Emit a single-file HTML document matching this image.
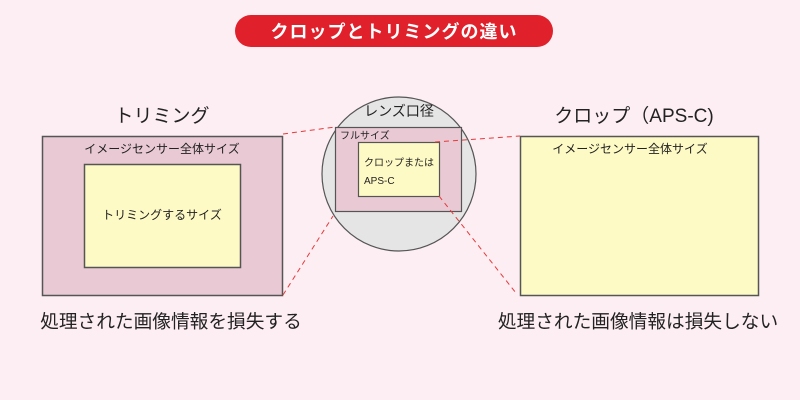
<!DOCTYPE html>
<html><head><meta charset="utf-8"><style>
body{margin:0;width:800px;height:400px;background:#fdeef4;overflow:hidden;font-family:"Liberation Sans","Noto Sans CJK JP",sans-serif;}
</style></head><body>
<svg width="800" height="400" xmlns="http://www.w3.org/2000/svg" style="position:absolute;left:0;top:0;font-family:'Liberation Sans','Noto Sans CJK JP',sans-serif">
<rect x="235" y="15" width="318" height="32" rx="16" fill="#e0202a"/>
<text x="394" y="38" text-anchor="middle" font-size="18" font-weight="bold" fill="#fff" letter-spacing="1">クロップとトリミングの違い</text>

<text x="162" y="122" text-anchor="middle" font-size="19" fill="#222">トリミング</text>
<rect x="42.5" y="136.5" width="240" height="159" fill="#e9c9d4" stroke="#555" stroke-width="1.5"/>
<text x="162" y="153" text-anchor="middle" font-size="12" fill="#222">イメージセンサー全体サイズ</text>
<rect x="84.5" y="164.5" width="156" height="103" fill="#fefac5" stroke="#555" stroke-width="1.5"/>
<text x="162" y="219" text-anchor="middle" font-size="12" fill="#222">トリミングするサイズ</text>
<text x="171" y="328" text-anchor="middle" font-size="18.7" fill="#222">処理された画像情報を損失する</text>

<circle cx="399" cy="174" r="77" fill="#e5e5e5" stroke="#555" stroke-width="1.2"/>
<text x="399" y="116" text-anchor="middle" font-size="14" fill="#222">レンズ口径</text>
<rect x="335.5" y="127.5" width="126" height="84" fill="#e9c9d4" stroke="#555" stroke-width="1.2"/>
<text x="340" y="139" font-size="10" fill="#222">フルサイズ</text>
<rect x="358.5" y="142.5" width="81" height="54" fill="#fefac5" stroke="#555" stroke-width="1.2"/>
<text x="364" y="166" font-size="10" fill="#222">クロップまたは</text>
<text x="364" y="184" font-size="10" fill="#222">APS-C</text>

<text x="634" y="122" text-anchor="middle" font-size="19" fill="#222">クロップ（APS-C)</text>
<rect x="520.5" y="136.5" width="238" height="159" fill="#fefac5" stroke="#555" stroke-width="1.5"/>
<text x="630" y="153" text-anchor="middle" font-size="12" fill="#222">イメージセンサー全体サイズ</text>
<text x="638" y="328" text-anchor="middle" font-size="18.7" fill="#222">処理された画像情報は損失しない</text>

<g stroke="#e63a3a" stroke-width="1" stroke-dasharray="5,4" fill="none">
<line x1="283" y1="134" x2="335" y2="127"/>
<line x1="283" y1="295" x2="333" y2="216"/>
<line x1="435" y1="142" x2="520" y2="136"/>
<line x1="439" y1="196" x2="516" y2="293"/>
</g>
</svg>
</body></html>
